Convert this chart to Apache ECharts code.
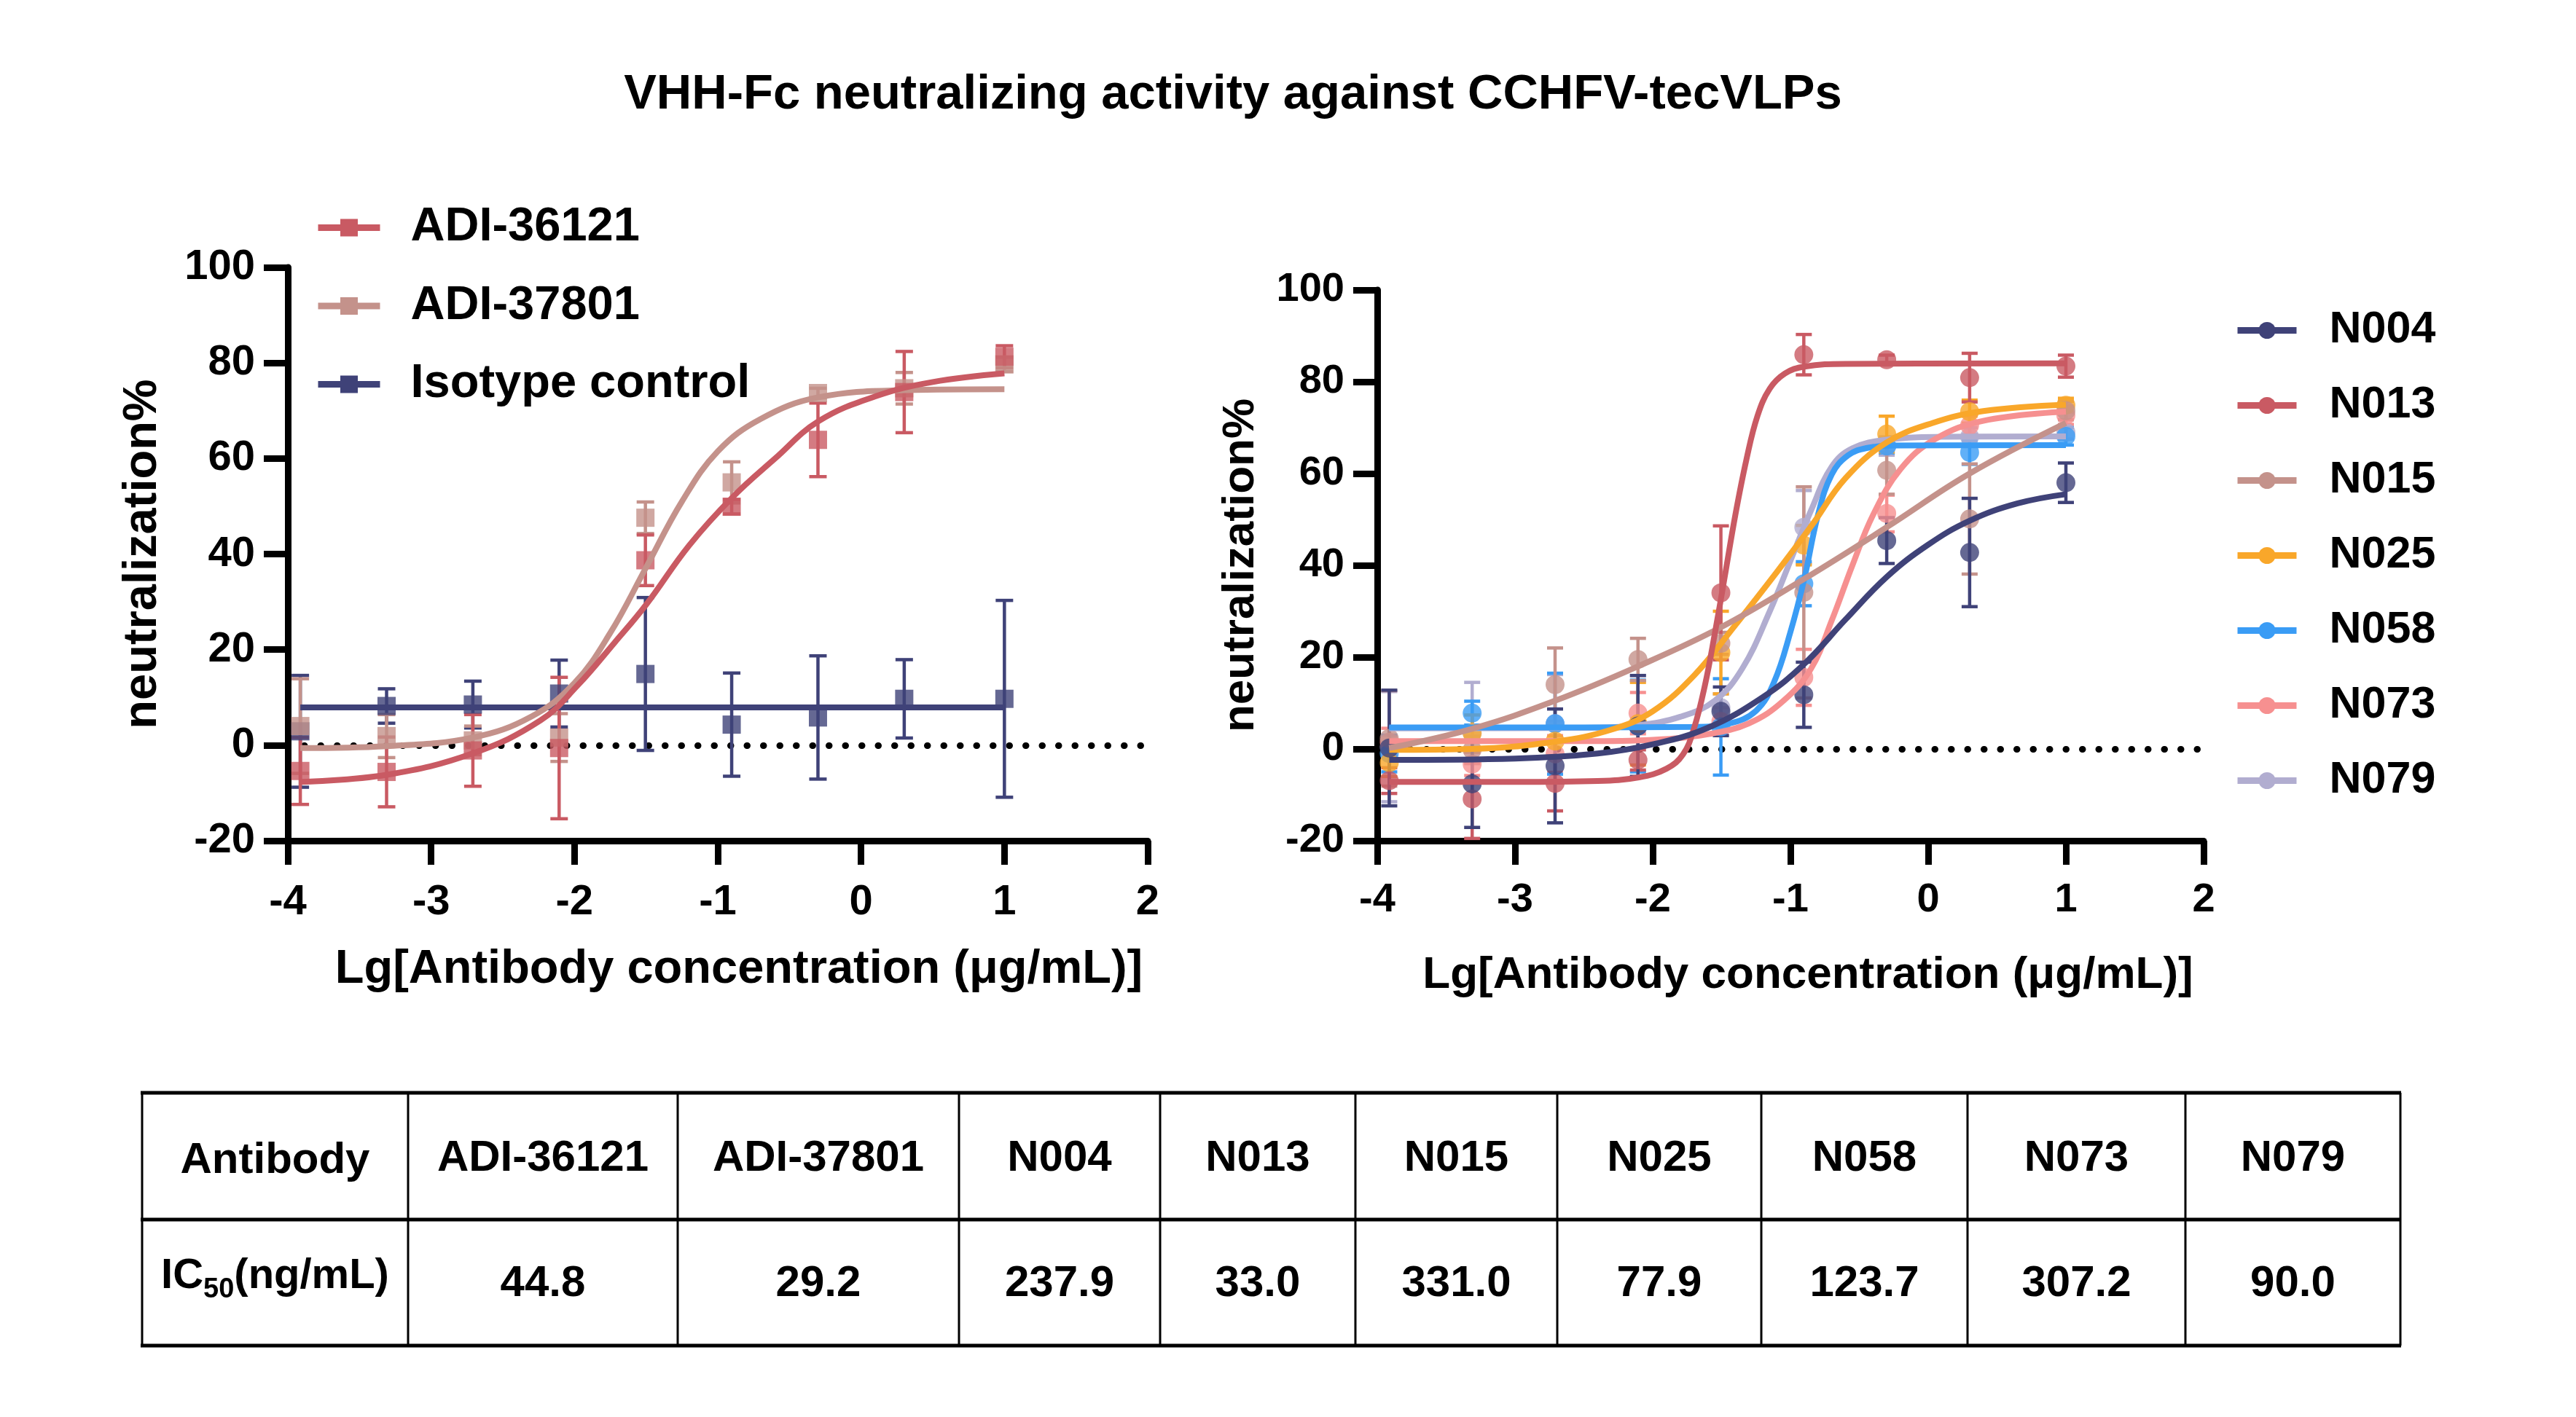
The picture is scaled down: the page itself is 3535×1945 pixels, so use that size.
<!DOCTYPE html>
<html>
<head>
<meta charset="utf-8">
<title>VHH-Fc neutralizing activity against CCHFV-tecVLPs</title>
<script src="https://cdn.jsdelivr.net/npm/echarts@6/dist/echarts.min.js"></script>
<style>
  html, body { margin: 0; padding: 0; background: #fff; }
  #chart { width: 3535px; height: 1945px; }
</style>
</head>
<body>
<div id="chart"></div>
<script>
// lg of antibody concentration (ug/mL), 4-fold dilutions from 2 ug/mL plus 10 ug/mL
const doses = [-3.913, -3.311, -2.709, -2.107, -1.505, -0.903, -0.301, 0.301, 1.0];

// left panel, mean and SD
const adi36121Mean = [-5.4, -5.6, -1.1, -0.6, 38.7, 49.9, 63.9, 73.9, 81.3];
const adi36121Sd   = [7.0, 7.3, 7.5, 14.8, 5.3, 1.5, 7.7, 8.5, 2.3];
const adi37801Mean = [4.0, 1.9, 1.0, 1.6, 47.6, 55.0, 73.7, 74.7, 79.7];
const adi37801Sd   = [9.9, 4.5, 3.0, 5.0, 3.3, 4.3, 1.0, 3.3, 1.5];
const isotypeMean  = [2.9, 8.2, 8.5, 10.8, 14.9, 4.3, 5.8, 9.7, 9.7];
const isotypeSd    = [11.7, 3.6, 4.9, 7.0, 16.0, 10.8, 12.9, 8.2, 20.6];

// fitted curves, [lg conc, neutralization%]
const adi36121Curve = [[-3.913, -7.7], [-3.311, -6.2], [-2.709, -1.7], [-2.236, 5.2], [-1.978, 12.5],
  [-1.719, 21.5], [-1.5, 29.4], [-1.2, 41.8], [-0.897, 51.9], [-0.6, 60], [-0.297, 67.8], [0.1, 73],
  [0.5, 76], [1.0, 77.8]];
const adi37801Curve = [[-3.913, -0.6], [-3.311, -0.2], [-2.709, 1.6], [-2.3, 6], [-2.0, 13], [-1.75, 23.5],
  [-1.5, 37.2], [-1.25, 51], [-1.0, 61.5], [-0.7, 68.3], [-0.3, 72.8], [0.31, 74.3], [1.0, 74.5]];
const isotypeCurve = [[-3.913, 7.9], [1.0, 7.9]];

// right panel, mean and SD
const n004Mean = [0.2, -7.6, -3.7, 5.0, 8.2, 11.8, 45.4, 42.8, 58.0];
const n004Sd   = [12.6, 9.5, 12.4, 11.0, 5.3, 7.1, 5.0, 11.8, 4.3];
const n013Mean = [-6.9, -10.9, -7.5, -2.4, 34.0, 85.9, 84.8, 80.9, 83.4];
const n013Sd   = [2.8, 8.6, 6.0, 2.2, 14.6, 4.4, 1.0, 5.3, 2.4];
const n015Mean = [2.3, -0.2, 14.0, 19.5, 23.0, 34.1, 60.7, 50.1, 73.7];
const n015Sd   = [10.4, 3.0, 8.0, 4.6, 2.4, 23.0, 5.2, 12.0, 2.0];
const n025Mean = [-3.0, 3.4, 1.7, 5.5, 21.0, 44.4, 68.6, 73.5, 74.9];
const n025Sd   = [3.0, 4.0, 3.5, 9.0, 9.0, 4.3, 3.9, 2.5, 1.5];
const n058Mean = [-1.0, 7.8, 5.5, 5.0, 4.8, 36.0, 66.0, 64.6, 68.1];
const n058Sd   = [4.0, 2.6, 11.0, 10.0, 10.5, 4.8, 1.5, 2.6, 1.9];
const n073Mean = [1.5, -3.3, -1.1, 7.8, 6.0, 15.6, 51.3, 70.5, 72.7];
const n073Sd   = [3.0, 2.5, 4.0, 4.5, 3.0, 6.1, 4.0, 2.0, 2.0];
const n079Mean = [0.5, 3.5, 5.5, 5.0, 9.0, 48.3, 66.0, 68.0, 69.0];
const n079Sd   = [12.0, 11.0, 10.7, 11.0, 3.0, 8.0, 2.0, 2.0, 1.5];

const n004Curve = [[-3.913, -2.4], [-3.0, -2.1], [-2.4, -1.0], [-2.0, 1.0], [-1.6, 4.6], [-1.2, 11.3],
  [-0.9, 18.5], [-0.6, 28.2], [-0.3, 37.5], [0.0, 44.5], [0.3, 49.7], [0.65, 53.5], [1.0, 55.5]];
const n013Curve = [[-3.913, -7.2], [-3.0, -7.2], [-2.4, -7.0], [-2.1, -6.2], [-1.9, -4.3], [-1.78, -1.2],
  [-1.7, 4.5], [-1.62, 14], [-1.55, 25], [-1.48, 37], [-1.4, 51], [-1.32, 63], [-1.24, 72.5],
  [-1.15, 78.5], [-1.04, 81.8], [-0.9, 83.3], [-0.6, 83.9], [1.0, 84]];
const n015Curve = [[-3.913, 0.2], [-3.311, 4.4], [-2.709, 10.5], [-2.107, 18], [-1.505, 26.5], [-0.903, 37],
  [-0.301, 48.3], [0.301, 60], [1.0, 71]];
const n025Curve = [[-3.913, -0.2], [-3.311, 0], [-2.709, 1.6], [-2.3, 4.2], [-2.0, 8.2], [-1.7, 16],
  [-1.4, 27], [-1.1, 38.5], [-0.85, 48.5], [-0.6, 59], [-0.3, 66.8], [0.03, 71], [0.4, 73.6], [1.0, 75]];
const n058Curve = [[-3.913, 4.7], [-2.5, 4.7], [-1.7, 4.8], [-1.45, 5.5], [-1.25, 8.3], [-1.12, 14.5],
  [-1.0, 25.5], [-0.9, 37], [-0.8, 51], [-0.7, 59.8], [-0.58, 64], [-0.44, 65.6], [-0.25, 66.1], [1.0, 66.2]];
const n073Curve = [[-3.913, 1.7], [-2.5, 1.7], [-2.0, 2.0], [-1.6, 3.2], [-1.3, 5.6], [-1.05, 10.5],
  [-0.85, 17.5], [-0.7, 28], [-0.55, 40], [-0.4, 51], [-0.2, 61], [0.05, 67.5], [0.4, 71.5], [1.0, 73.5]];
const n079Curve = [[-3.913, 4.5], [-2.5, 4.6], [-2.1, 5.2], [-1.8, 7], [-1.55, 10.5], [-1.35, 17.5],
  [-1.15, 30], [-1.0, 41], [-0.85, 52], [-0.7, 61.5], [-0.55, 65.5], [-0.3, 67.4], [0.1, 68], [1.0, 68.1]];

// table
const tableAntibodies = ['ADI-36121', 'ADI-37801', 'N004', 'N013', 'N015', 'N025', 'N058', 'N073', 'N079'];
const tableIC50 = ['44.8', '29.2', '237.9', '33.0', '331.0', '77.9', '123.7', '307.2', '90.0'];

const FONT = '"Liberation Sans", Arial, sans-serif';

const leftSets = [
  { name: 'ADI-36121', mean: adi36121Mean, sd: adi36121Sd, curve: adi36121Curve, color: '#c95a63' },
  { name: 'ADI-37801', mean: adi37801Mean, sd: adi37801Sd, curve: adi37801Curve, color: '#c4928b' },
  { name: 'Isotype control', mean: isotypeMean, sd: isotypeSd, curve: isotypeCurve, color: '#3f4278' }
];
const rightSets = [
  { name: 'N004', mean: n004Mean, sd: n004Sd, curve: n004Curve, color: '#3f4278' },
  { name: 'N013', mean: n013Mean, sd: n013Sd, curve: n013Curve, color: '#c95a63' },
  { name: 'N015', mean: n015Mean, sd: n015Sd, curve: n015Curve, color: '#c4928b' },
  { name: 'N025', mean: n025Mean, sd: n025Sd, curve: n025Curve, color: '#f9a72a' },
  { name: 'N058', mean: n058Mean, sd: n058Sd, curve: n058Curve, color: '#3a9cf5' },
  { name: 'N073', mean: n073Mean, sd: n073Sd, curve: n073Curve, color: '#f69090' },
  { name: 'N079', mean: n079Mean, sd: n079Sd, curve: n079Curve, color: '#b1add0' }
];

function setSeries(set, axis, symbol, symbolSize, capW) {
  const curve = {
    type: 'line', name: set.name, xAxisIndex: axis, yAxisIndex: axis,
    data: set.curve, smooth: 0.4,
    showSymbol: false, symbol: symbol, color: set.color,
    lineStyle: { width: 8, color: set.color }, silent: true
  };
  const bars = {
    type: 'custom', name: set.name, xAxisIndex: axis, yAxisIndex: axis,
    data: doses.map((x, i) => [x, set.mean[i] - set.sd[i], set.mean[i] + set.sd[i]]),
    encode: { x: 0, y: [1, 2] }, silent: true,
    renderItem(params, api) {
      const lo = api.coord([api.value(0), api.value(1)]);
      const hi = api.coord([api.value(0), api.value(2)]);
      const st = { stroke: set.color, lineWidth: 4.5, fill: null };
      return {
        type: 'group',
        children: [
          { type: 'line', shape: { x1: lo[0], y1: lo[1], x2: hi[0], y2: hi[1] }, style: st },
          { type: 'line', shape: { x1: lo[0] - capW, y1: lo[1], x2: lo[0] + capW, y2: lo[1] }, style: st },
          { type: 'line', shape: { x1: hi[0] - capW, y1: hi[1], x2: hi[0] + capW, y2: hi[1] }, style: st }
        ]
      };
    }
  };
  const points = {
    type: 'scatter', name: set.name, xAxisIndex: axis, yAxisIndex: axis,
    data: doses.map((x, i) => [x, set.mean[i]]),
    symbol: symbol, symbolSize: symbolSize, itemStyle: { color: set.color }, silent: true
  };
  return [curve, bars, points];
}

function zeroLine() {
  return {
    silent: true, symbol: 'none', z: 1,
    label: { show: false },
    lineStyle: { color: '#000', width: 9, type: [0.5, 22], cap: 'round' },
    data: [{ yAxis: 0 }]
  };
}

const series = [];
// first data set is drawn on top, as in the original
leftSets.slice().reverse().forEach(s => series.push(...setSeries(s, 0, 'rect', 25, 12)));
rightSets.slice().reverse().forEach(s => series.push(...setSeries(s, 1, 'circle', 26, 11)));
series[0].markLine = zeroLine();
series[leftSets.length * 3].markLine = zeroLine();

const labelStyle = { fontFamily: FONT, fontWeight: 'bold', color: '#000' };

function xAxis(grid, gap, labelSize, nameSize, margin, shift) {
  return {
    type: 'value', gridIndex: grid, min: -4, max: 2, interval: 1,
    axisLine: { onZero: false, lineStyle: { color: '#000', width: 9 } },
    axisTick: { length: 33, lineStyle: { color: '#000', width: 9 } },
    axisLabel: Object.assign({ fontSize: labelSize, margin: margin }, labelStyle),
    splitLine: { show: false },
    name: 'Lg[Antibody concentration (μg/mL)]', nameLocation: 'middle', nameGap: gap,
    nameTextStyle: Object.assign({ fontSize: nameSize, padding: [0, 0, 0, shift] }, labelStyle)
  };
}
function yAxis(grid, gap, labelSize, nameSize) {
  return {
    type: 'value', gridIndex: grid, min: -20, max: 100, interval: 20,
    axisLine: { show: true, onZero: false, lineStyle: { color: '#000', width: 9 } },
    axisTick: { show: true, length: 33, lineStyle: { color: '#000', width: 9 } },
    axisLabel: Object.assign({ fontSize: labelSize, margin: 45 }, labelStyle),
    splitLine: { show: false },
    name: 'neutralization%', nameLocation: 'middle', nameGap: gap, nameRotate: 90,
    nameTextStyle: Object.assign({ fontSize: nameSize }, labelStyle)
  };
}

// table drawn as graphic elements
const colEdges = [195, 560, 930, 1316, 1592, 1860, 2137, 2417, 2700, 2999, 3294];
const rowEdges = [1500, 1674, 1847];
const tableEls = [];
rowEdges.forEach(y => tableEls.push({
  type: 'line', shape: { x1: colEdges[0] - 2, y1: y, x2: colEdges[colEdges.length - 1] + 1, y2: y },
  style: { stroke: '#000', lineWidth: 5 }
}));
colEdges.forEach(x => tableEls.push({
  type: 'line', shape: { x1: x, y1: rowEdges[0], x2: x, y2: rowEdges[2] },
  style: { stroke: '#000', lineWidth: 3 }
}));
function cellText(text, col, y) {
  return {
    type: 'text',
    style: {
      text: text, x: (colEdges[col] + colEdges[col + 1]) / 2, y: y,
      font: 'bold 60px ' + FONT, fill: '#000',
      align: 'center', verticalAlign: 'middle', textAlign: 'center', textVerticalAlign: 'middle'
    }
  };
}
tableEls.push(cellText('Antibody', 0, 1593));
tableEls.push({
  type: 'text',
  style: {
    text: '{a|IC}{s|50}{a|(ng/mL)}', x: (colEdges[0] + colEdges[1]) / 2, y: 1752,
    align: 'center', verticalAlign: 'middle', textAlign: 'center', textVerticalAlign: 'middle',
    rich: {
      a: { fontFamily: FONT, fontWeight: 'bold', fontSize: 58, lineHeight: 76, verticalAlign: 'middle', fill: '#000' },
      s: { fontFamily: FONT, fontWeight: 'bold', fontSize: 38, lineHeight: 38, verticalAlign: 'bottom', fill: '#000' }
    }
  }
});
tableAntibodies.forEach((t, i) => tableEls.push(cellText(t, i + 1, 1590)));
tableIC50.forEach((t, i) => tableEls.push(cellText(t, i + 1, 1762)));

const chart = echarts.init(document.getElementById('chart'), null, { renderer: 'canvas' });
chart.setOption({
  animation: false,
  backgroundColor: '#fff',
  grid: [
    { left: 395, top: 367, width: 1180, height: 787, outerBoundsMode: 'none' },
    { left: 1890, top: 398, width: 1134, height: 756, outerBoundsMode: 'none' }
  ],
  xAxis: [xAxis(0, 145, 58, 65, 56, 58), xAxis(1, 154, 56, 62, 54, 48)],
  yAxis: [yAxis(0, 166, 58, 65), yAxis(1, 156, 56, 62)],
  legend: [
    {
      data: leftSets.map(s => s.name), orient: 'vertical', left: 432, top: 280,
      itemWidth: 85, itemHeight: 30, itemGap: 42.5, padding: 0, selectedMode: false,
      lineStyle: { width: 9 },
      textStyle: Object.assign({ fontSize: 65, lineHeight: 65, padding: [0, 0, 0, 37] }, labelStyle)
    },
    {
      data: rightSets.map(s => s.name), orient: 'vertical', left: 3066, top: 423,
      itemWidth: 81, itemHeight: 29, itemGap: 42, padding: 0, selectedMode: false,
      lineStyle: { width: 9 },
      textStyle: Object.assign({ fontSize: 61, lineHeight: 61, padding: [0, 0, 0, 40] }, labelStyle)
    }
  ],
  graphic: [
    {
      type: 'text',
      style: {
        text: 'VHH-Fc neutralizing activity against CCHFV-tecVLPs', x: 1692, y: 131,
        font: 'bold 67px ' + FONT, fill: '#000',
        align: 'center', verticalAlign: 'middle', textAlign: 'center', textVerticalAlign: 'middle'
      }
    },
    { type: 'group', children: tableEls }
  ],
  series: series
});
</script>
</body>
</html>
